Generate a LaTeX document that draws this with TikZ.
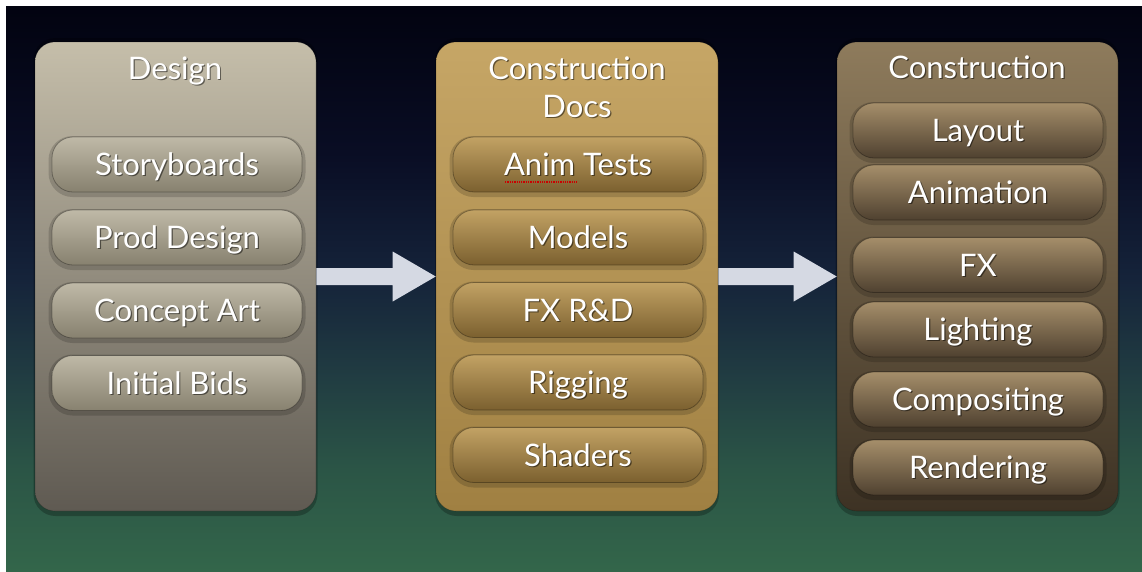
\documentclass[tikz,border=0pt]{standalone}
\usepackage{fontspec}
\setmainfont{Lato}
\usetikzlibrary{calc}

% background
\definecolor{bgA}{HTML}{020310}
\definecolor{bgB}{HTML}{090D24}
\definecolor{bgC}{HTML}{15233A}
\definecolor{bgD}{HTML}{213D42}
\definecolor{bgE}{HTML}{2B5546}
\definecolor{bgF}{HTML}{33664A}
% panels
\definecolor{desTop}{HTML}{C5BEAA}
\definecolor{desBot}{HTML}{5F5A52}
\definecolor{docTop}{HTML}{C6A666}
\definecolor{docBot}{HTML}{A08042}
\definecolor{conTop}{HTML}{8E7B5C}
\definecolor{conBot}{HTML}{3D3224}
% pills
\definecolor{desPillTop}{HTML}{BFB9A7}
\definecolor{desPillBot}{HTML}{87816F}
\definecolor{docPillTop}{HTML}{C2A264}
\definecolor{docPillBot}{HTML}{7B602F}
\definecolor{conPillTop}{HTML}{A58E6A}
\definecolor{conPillBot}{HTML}{4F4130}
\definecolor{arrowcol}{HTML}{D5D9E3}

\pgfdeclareverticalshading{stagebg}{100bp}{%
  color(0bp)=(bgF); color(25bp)=(bgF); color(34bp)=(bgE); color(42bp)=(bgD);
  color(51bp)=(bgC); color(62bp)=(bgB); color(75bp)=(bgA); color(100bp)=(bgA)}

\tikzset{
  panel/.style={rounded corners=20pt, minimum width=281pt, minimum height=469pt,
    inner sep=0pt, draw=black, draw opacity=.2, line width=.6pt},
  pill/.style={rounded corners=21pt, minimum width=250pt, minimum height=55pt,
    inner sep=0pt, draw=black, draw opacity=.3, line width=.8pt},
  pillshade/.style={rounded corners=24pt, minimum width=257pt, minimum height=61pt,
    inner sep=0pt, fill=black, fill opacity=.16},
  despill/.style={top color=desPillTop, bottom color=desPillBot},
  docpill/.style={top color=docPillTop, bottom color=docPillBot},
  conpill/.style={top color=conPillTop, bottom color=conPillBot},
  txt/.style={text=white, font=\fontsize{31}{37}\selectfont, inner sep=0pt, anchor=base},
  txtsh/.style={txt, text=black, text opacity=.5},
  flowarrow/.style={fill=arrowcol},
}

% one rounded sub-task box with shadowed label
\newcommand\stagepill[5]{%
  \node[pillshade] (#1sh) at (#2,#3+2) {};
  \node[pill,#4] (#1) at (#2,#3) {};
  \node[txtsh] (#1ts) at ($(#1.center)+(1.2,12.3)$) {#5};
  \node[txt] (#1tx) at ($(#1.center)+(0,11)$) {#5};
}
% shadowed heading text
\newcommand\stagetitle[4]{%
  \node[txtsh] (#1s) at (#2+1.2,#3+1.3) {#4};
  \node[txt] (#1) at (#2,#3) {#4};
}

\begin{document}
\begin{tikzpicture}[x=1pt,y=-1pt]
\useasboundingbox (0,0) rectangle (1142,571);
\fill[white] (0,0) rectangle (1142,571);
\shade[shading=stagebg] (6,6) rectangle (1142,571);

% panel shadows
\foreach \px in {175.5,577,977.5}
  \fill[black, opacity=.25, rounded corners=22pt] (\px-142,38) rectangle (\px+142,516);

% panels
\node[panel, top color=desTop, bottom color=desBot] (p1) at (175.5,276.5) {};
\node[panel, top color=docTop, bottom color=docBot, minimum width=282pt] (p2) at (577,276.5) {};
\node[panel, top color=conTop, bottom color=conBot] (p3) at (977.5,276.5) {};

% flow arrows between the stages
\fill[flowarrow] ([yshift=8.5pt]p1.east) -- ([xshift=-43pt,yshift=8.5pt]p2.west)
  -- ([xshift=-43pt,yshift=25pt]p2.west) -- (p2.west)
  -- ([xshift=-43pt,yshift=-25pt]p2.west) -- ([xshift=-43pt,yshift=-8.5pt]p2.west)
  -- ([yshift=-8.5pt]p1.east) -- cycle;
\fill[flowarrow] ([yshift=8.5pt]p2.east) -- ([xshift=-43pt,yshift=8.5pt]p3.west)
  -- ([xshift=-43pt,yshift=25pt]p3.west) -- (p3.west)
  -- ([xshift=-43pt,yshift=-25pt]p3.west) -- ([xshift=-43pt,yshift=-8.5pt]p3.west)
  -- ([yshift=-8.5pt]p2.east) -- cycle;

% Design
\stagetitle{t1}{175}{79}{Design}
\stagepill{d1}{177}{164.5}{despill}{Storyboards}
\stagepill{d2}{177}{237.5}{despill}{Prod Design}
\stagepill{d3}{177}{310.5}{despill}{Concept Art}
\stagepill{d4}{177}{383}{despill}{Initial Bids}

% Construction Docs
\stagetitle{t2a}{577}{79}{Construction}
\stagetitle{t2b}{577}{117}{Docs}
\stagepill{c1}{578}{164.5}{docpill}{Anim Tests}
\stagepill{c2}{578}{237.5}{docpill}{Models}
\stagepill{c3}{578}{310}{docpill}{FX R\&D}
\stagepill{c4}{578}{382.5}{docpill}{Rigging}
\stagepill{c5}{578}{455}{docpill}{Shaders}
\draw[red!80!black, line width=1.1pt, dash pattern=on 1.3pt off 1pt] (505,182) -- (577,182);

% Construction
\stagetitle{t3}{977}{78}{Construction}
\stagepill{k1}{978}{130.5}{conpill}{Layout}
\stagepill{k2}{978}{192.5}{conpill}{Animation}
\stagepill{k3}{978}{265}{conpill}{FX}
\stagepill{k4}{978}{329.5}{conpill}{Lighting}
\stagepill{k5}{978}{399.5}{conpill}{Compositing}
\stagepill{k6}{978}{467.5}{conpill}{Rendering}
\end{tikzpicture}
\end{document}
